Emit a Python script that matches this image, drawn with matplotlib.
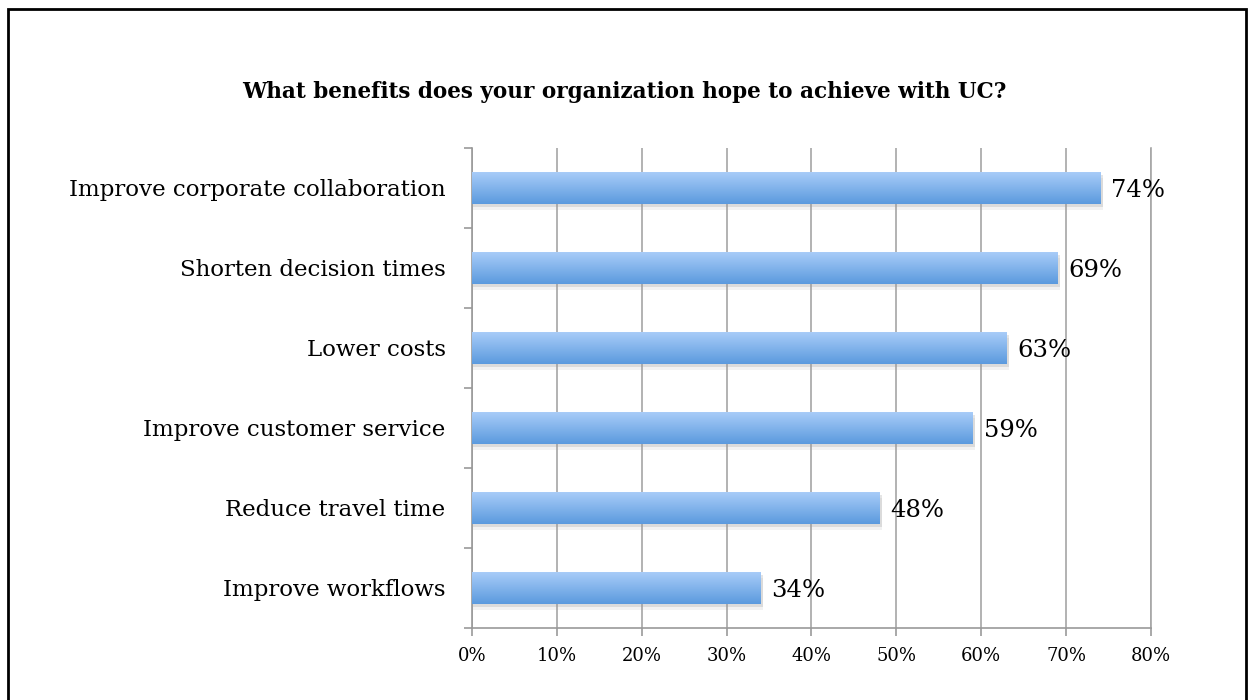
import matplotlib.pyplot as plt
import numpy as np
from matplotlib.patches import Rectangle
from matplotlib.colors import LinearSegmentedColormap

categories = ['Improve workflows', 'Reduce travel time', 'Improve customer service',
              'Lower costs', 'Shorten decision times', 'Improve corporate collaboration']
values = [34, 48, 59, 63, 69, 74]
xticks = [0, 10, 20, 30, 40, 50, 60, 70, 80]

plt.rcParams['font.family'] = ['DejaVu Serif']

fig = plt.figure(figsize=(12.49, 7.0), dpi=100)
ax = fig.add_axes([0.3779, 0.1029, 0.5436, 0.6857])

# border around the chart
fig.patches.append(Rectangle((8 / 1249, -0.05), 1238 / 1249, 1 - 9 / 700 + 0.05,
                             transform=fig.transFigure, fill=False,
                             edgecolor='black', linewidth=2))

ypos = np.arange(len(categories))
h = 0.4
grad = np.linspace(0, 1, 100).reshape(-1, 1)
cm = LinearSegmentedColormap.from_list('bl', ['#5b9ade', '#a8ccf8'])

for y, v in zip(ypos, values):
    # shadow
    for k, a in [(0.04, 0.25), (0.07, 0.12)]:
        ax.add_patch(Rectangle((0.1, y - h / 2 - k), v + 0.2, h, facecolor='#999999',
                               alpha=a, edgecolor='none', zorder=2))
    bar = ax.barh(y, v, height=h, color='none', edgecolor='none', zorder=3)[0]
    im = ax.imshow(grad, extent=(0, v, y - h / 2, y + h / 2), cmap=cm,
                   aspect='auto', origin='lower', zorder=3)
    im.set_clip_path(bar)
    ax.text(v + 1.3, y - 0.03, f'{v}%', va='center', ha='left', fontsize=17.5, zorder=4)

ax.set_xlim(0, 80)
ax.set_ylim(-0.5, len(categories) - 0.5)
ax.set_xticks(xticks)
ax.set_xticklabels([f'{t}%' for t in xticks], fontsize=13)
ax.set_yticks(ypos)
ax.set_yticklabels(categories, fontsize=16.5)
ax.set_yticks(np.arange(-0.5, len(categories)), minor=True)
ax.tick_params(axis='y', which='major', length=0, pad=19)
ax.tick_params(axis='y', which='minor', length=6, color='#999999', width=1.2)
ax.tick_params(axis='x', length=6, color='#999999', width=1.2, pad=8)
ax.grid(axis='x', color='#a6a6a6', linewidth=1.2, zorder=0)
ax.axvline(xticks[-1], color='#a6a6a6', linewidth=1.2, zorder=0, clip_on=False)
ax.set_axisbelow(True)
for s in ['top', 'right']:
    ax.spines[s].set_visible(False)
for s in ['left', 'bottom']:
    ax.spines[s].set_color('#999999')
    ax.spines[s].set_linewidth(1.2)

fig.text(0.5, 1 - 92 / 700, 'What benefits does your organization hope to achieve with UC?',
         ha='center', va='center', fontsize=15.5, fontweight='bold')

plt.savefig('out.png', dpi=100)
